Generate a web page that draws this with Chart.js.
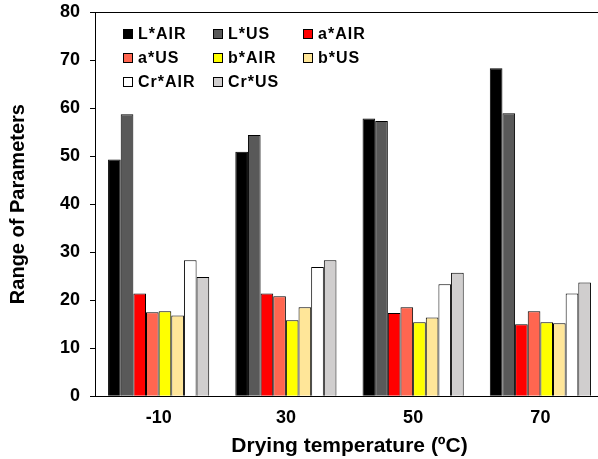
<!DOCTYPE html>
<html>
<head>
<meta charset="utf-8">
<script src="https://cdn.jsdelivr.net/npm/chart.js@4.4.1/dist/chart.umd.min.js"></script>
<style>
  html, body { margin: 0; padding: 0; background: #fff; overflow: hidden; }
  #wrap { width: 604px; height: 459px; }
</style>
</head>
<body>
<div id="wrap"><canvas id="chart"></canvas></div>
<script>
// drying temperatures
const categories = ['-10', '30', '50', '70'];

// colour parameter ranges, one array per series
const lAir  = [49.3, 50.9, 57.8, 68.3];
const lUs   = [58.7, 54.4, 57.3, 58.9];
const aAir  = [21.4, 21.4, 17.3, 15.0];
const aUs   = [17.5, 20.8, 18.5, 17.7];
const bAir  = [17.7, 15.8, 15.4, 15.4];
const bUs   = [16.8, 18.5, 16.4, 15.2];
const crAir = [28.3, 26.9, 23.3, 21.4];
const crUs  = [24.8, 28.3, 25.7, 23.7];

const seriesLabels = ['L*AIR', 'L*US', 'a*AIR', 'a*US', 'b*AIR', 'b*US', 'Cr*AIR', 'Cr*US'];
const seriesData = [lAir, lUs, aAir, aUs, bAir, bUs, crAir, crUs];
const seriesColors = ['#000000', '#595959', '#FF0000', '#FF6650', '#FFFF00', '#FFE699', '#FFFFFF', '#D0CECE'];

const FONT = '"Liberation Sans", Arial, sans-serif';

// legend drawn as a 3-column grid inside the plot, like the original
const gridLegend = {
    id: 'gridLegend',
    afterDraw(chart) {
        const ctx = chart.ctx;
        const left = 123, top = 29, colW = 90, rowH = 24, box = 10;
        ctx.save();
        ctx.font = 'bold 16px ' + FONT;
        ctx.letterSpacing = '1px';
        ctx.textBaseline = 'middle';
        chart.data.datasets.forEach((ds, i) => {
            const x = left + (i % 3) * colW;
            const y = top + Math.floor(i / 3) * rowH;
            ctx.fillStyle = ds.backgroundColor;
            ctx.fillRect(x, y, box, box);
            ctx.strokeStyle = '#000';
            ctx.lineWidth = 1;
            ctx.strokeRect(x + 0.5, y + 0.5, box - 1, box - 1);
            ctx.fillStyle = '#000';
            ctx.fillText(ds.label, x + box + 5, y + box / 2 + 1);
        });
        ctx.restore();
    }
};

// top frame line of the plot area
const topFrame = {
    id: 'topFrame',
    afterDraw(chart) {
        const { ctx, chartArea } = chart;
        ctx.save();
        ctx.strokeStyle = '#000';
        ctx.lineWidth = 1;
        ctx.beginPath();
        ctx.moveTo(chartArea.left, Math.round(chartArea.top) + 0.5);
        ctx.lineTo(chartArea.right, Math.round(chartArea.top) + 0.5);
        ctx.stroke();
        ctx.restore();
    }
};

const datasets = seriesLabels.map((label, i) => ({
    label,
    data: seriesData[i],
    backgroundColor: seriesColors[i],
    borderColor: '#000',
    borderWidth: 1,
    barPercentage: 1.0,
    categoryPercentage: 0.795
}));

new Chart(document.getElementById('chart'), {
    type: 'bar',
    data: { labels: categories, datasets },
    options: {
        responsive: true,
        maintainAspectRatio: false,
        animation: false,
        devicePixelRatio: 1,
        layout: { padding: { left: 6, right: 0, top: 12, bottom: 0 } },
        plugins: {
            legend: { display: false },
            tooltip: { enabled: false }
        },
        scales: {
            x: {
                grid: { display: false },
                border: { display: true, color: '#000', width: 1 },
                ticks: { color: '#000', font: { family: FONT, size: 18, weight: 'bold' }, padding: 3 },
                title: {
                    display: true,
                    text: 'Drying temperature (ºC)',
                    color: '#000',
                    font: { family: FONT, size: 21, weight: 'bold' },
                    padding: { top: 2, bottom: 0 }
                }
            },
            y: {
                min: 0,
                max: 80,
                afterFit(scale) { scale.paddingTop = 0; },
                ticks: { stepSize: 10, color: '#000', font: { family: FONT, size: 18, weight: 'bold' }, padding: 10 },
                grid: { drawOnChartArea: false, drawTicks: true, tickLength: 5, color: '#000' },
                border: { display: true, color: '#000', width: 1 },
                title: {
                    display: true,
                    text: 'Range of Parameters',
                    color: '#000',
                    font: { family: FONT, size: 20, weight: 'bold' },
                    padding: { top: 0, bottom: 20 }
                }
            }
        }
    },
    plugins: [gridLegend, topFrame]
});
</script>
</body>
</html>
